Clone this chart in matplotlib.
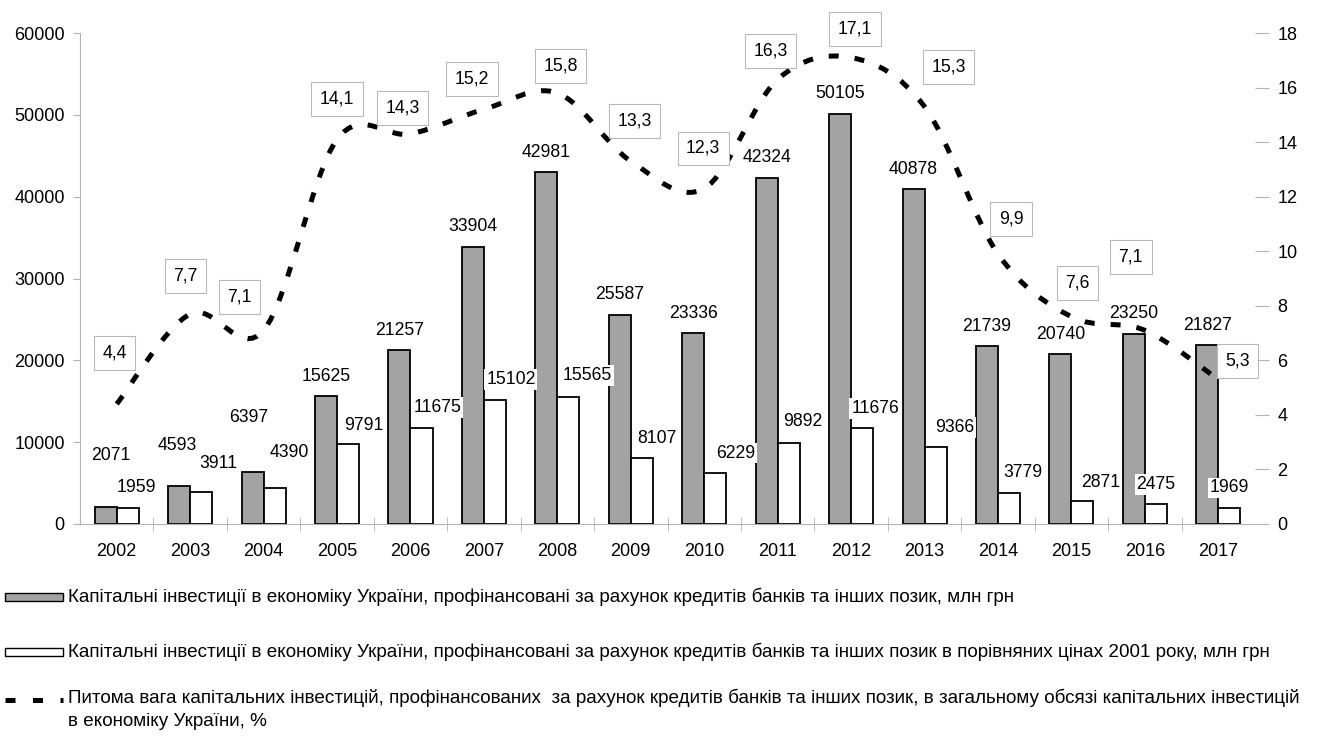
import numpy as np
import matplotlib
matplotlib.use("Agg")
import matplotlib.pyplot as plt
from matplotlib.path import Path
from matplotlib.patches import PathPatch, Rectangle
from matplotlib.lines import Line2D

plt.rcParams['font.family'] = ['Liberation Sans', 'DejaVu Sans']

# Data
years = ["2002", "2003", "2004", "2005", "2006", "2007", "2008", "2009",
         "2010", "2011", "2012", "2013", "2014", "2015", "2016", "2017"]
invest_nominal = [2071, 4593, 6397, 15625, 21257, 33904, 42981, 25587,
                  23336, 42324, 50105, 40878, 21739, 20740, 23250, 21827]
invest_2001 = [1959, 3911, 4390, 9791, 11675, 15102, 15565, 8107,
               6229, 9892, 11676, 9366, 3779, 2871, 2475, 1969]
share_pct = [4.4, 7.7, 7.1, 14.1, 14.3, 15.2, 15.8, 13.3,
             12.3, 16.3, 17.1, 15.3, 9.9, 7.6, 7.1, 5.3]

legend_labels = [
    "Капітальні інвестиції в економіку України, профінансовані за рахунок кредитів банків та інших позик, млн грн",
    "Капітальні інвестиції в економіку України, профінансовані за рахунок кредитів банків та інших позик в порівняних цінах 2001 року, млн грн",
    "Питома вага капітальних інвестицій, профінансованих  за рахунок кредитів банків та інших позик, в загальному обсязі капітальних інвестицій\nв економіку України, %",
]

# Label offsets in pixels (dx, dy up), as placed in the original
gray_off = [(5, 52), (-2, 41), (-4, 54)] + [(0, 20)] * 13
white_off = [(9, 20), (17, 28), (15, 36), (16, 18), (16, 21), (16, 21), (19, 21), (15, 19),
             (20, 20), (14, 22), (13, 20), (19, 20), (14, 21), (18, 18), (0, 19), (0, 20)]
pct_off = [(-2, 51), (-5, 38), (-24, 33), (0, 40), (-8, 26), (-12, 30), (3, 27), (4, 40),
           (-1, 40), (-7, 28), (4, 29), (24, 40), (13, 35), (6, 34), (-14, 73), (19, 18)]

W, H = 1318, 736
fig = plt.figure(figsize=(W / 100, H / 100), dpi=100)
ax = fig.add_axes([80 / W, 1 - 524 / H, 1175 / W, 491 / H])

gray = '#a3a3a3'
axis_grey = '#b4b4b4'
x = np.arange(len(years))
bw = 0.3

ax.bar(x - bw / 2, invest_nominal, bw, color=gray, edgecolor='black', linewidth=1.3, zorder=2)
ax.bar(x + bw / 2, invest_2001, bw, color='white', edgecolor='black', linewidth=1.3, zorder=2)

ax.set_xlim(-0.5, 15.5)
ax.set_ylim(0, 60000)
ax.set_yticks(np.arange(0, 60001, 10000))
ax.set_xticks(x)
ax.set_xticklabels(years)
ax.set_xticks(np.arange(0.5, 15.5, 1), minor=True)
ax.tick_params(axis='x', which='major', length=0, pad=14, labelsize=13)
ax.tick_params(axis='x', which='minor', length=10, direction='inout', color=axis_grey)
ax.tick_params(axis='y', length=5, color=axis_grey, labelsize=13, pad=6)

for s in ['top', 'right']:
    ax.spines[s].set_visible(False)
ax.spines['left'].set_color(axis_grey)
ax.spines['bottom'].set_color(axis_grey)

lbl_box = dict(boxstyle='square,pad=0.1', fc='white', ec='none')
for i in range(len(years)):
    ax.annotate(str(invest_nominal[i]), xy=(x[i] - bw / 2, invest_nominal[i]), xytext=gray_off[i],
                textcoords='offset pixels', ha='center', va='center', fontsize=12.7,
                bbox=lbl_box, zorder=4)
    ax.annotate(str(invest_2001[i]), xy=(x[i] + bw / 2, invest_2001[i]), xytext=white_off[i],
                textcoords='offset pixels', ha='center', va='center', fontsize=12.7,
                bbox=lbl_box, zorder=4)

# Right axis with smoothed dashed share line
ax2 = ax.twinx()
ax2.set_ylim(0, 18)
ax2.set_yticks(np.arange(0, 19, 2))
ax2.tick_params(axis='y', length=10, color=axis_grey, labelsize=13, pad=6)
for s in ['top', 'right', 'left', 'bottom']:
    ax2.spines[s].set_visible(False)

pts = np.column_stack([x, share_pct]).astype(float)
n = len(pts)
verts = [pts[0]]
codes = [Path.MOVETO]
for i in range(n - 1):
    p_prev = pts[i - 1] if i > 0 else pts[i]
    p_next = pts[i + 2] if i + 2 < n else pts[i + 1]
    c1 = pts[i] + (pts[i + 1] - p_prev) / 6
    c2 = pts[i + 1] - (p_next - pts[i]) / 6
    verts += [c1, c2, pts[i + 1]]
    codes += [Path.CURVE4] * 3
curve = PathPatch(Path(verts, codes), fill=False, edgecolor='black', linewidth=3.6,
                  linestyle=(0, (2, 3.2)), capstyle='butt', zorder=3)
ax2.add_patch(curve)

pct_box = dict(boxstyle='square,pad=0.48', fc='white', ec='#b8b8b8', lw=0.8)
for i in range(len(years)):
    ax2.annotate(f"{share_pct[i]:.1f}".replace('.', ','), xy=(x[i], share_pct[i]), xytext=pct_off[i],
                 textcoords='offset pixels', ha='center', va='center', fontsize=12.7,
                 bbox=pct_box, zorder=5)

# Legend drawn below the chart
fig.add_artist(Rectangle((5 / W, 1 - 601 / H), 58 / W, 8 / H, transform=fig.transFigure,
                         facecolor=gray, edgecolor='black', linewidth=1.0))
fig.add_artist(Rectangle((5 / W, 1 - 656 / H), 58 / W, 8 / H, transform=fig.transFigure,
                         facecolor='white', edgecolor='black', linewidth=1.0))
fig.add_artist(Line2D([5 / W, 63 / W], [1 - 700 / H, 1 - 700 / H], transform=fig.transFigure,
                      color='black', linewidth=3.6, linestyle=(0, (2, 3.5)), solid_capstyle='butt'))
fig.text(68 / W, 1 - 597 / H, legend_labels[0], va='center', ha='left', fontsize=13.6)
fig.text(68 / W, 1 - 652 / H, legend_labels[1], va='center', ha='left', fontsize=13.6)
fig.text(68 / W, 1 - 689 / H, legend_labels[2], va='top', ha='left', fontsize=13.6, linespacing=1.4)

fig.savefig("out.png", dpi=100)
